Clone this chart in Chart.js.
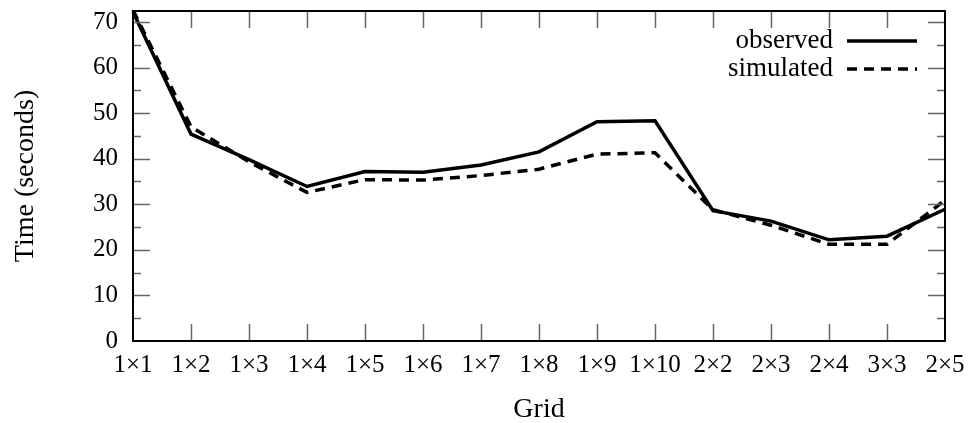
<!DOCTYPE html>
<html>
<head>
<meta charset="utf-8">
<script src="https://cdn.jsdelivr.net/npm/chart.js@4/dist/chart.umd.min.js"></script>
<style>
  html, body { margin: 0; padding: 0; background: #fff; }
  #wrap { width: 970px; height: 423px; }
</style>
</head>
<body>
<div id="wrap"><canvas id="chart" width="970" height="423"></canvas></div>
<script>
var grids = ["1×1", "1×2", "1×3", "1×4", "1×5", "1×6", "1×7", "1×8", "1×9", "1×10", "2×2", "2×3", "2×4", "3×3", "2×5"];
var observed = [72.2, 45.4, 39.8, 33.9, 37.2, 37.0, 38.6, 41.5, 48.1, 48.3, 28.6, 26.3, 22.2, 23.0, 28.9];
var simulated = [72.6, 47.0, 39.3, 32.6, 35.4, 35.3, 36.3, 37.7, 41.0, 41.3, 28.8, 25.4, 21.2, 21.2, 30.9];
var yMin = 0, yMax = 72.4, yMajor = 10, yMinor = 5;

var FONT = "'Liberation Serif', 'Times New Roman', serif";

// frame, inward ticks on all four sides, and the legend on the right
var framePlugin = {
  id: "frame",
  afterDatasetsDraw: function(chart) {
    var ctx = chart.ctx;
    var a = chart.chartArea;
    var xs = chart.scales.x, ys = chart.scales.y;
    ctx.save();
    ctx.strokeStyle = "#666";
    ctx.lineWidth = 1.5;
    ctx.beginPath();
    for (var i = 1; i < grids.length - 1; i++) {
      var px = Math.round(xs.getPixelForValue(i)) + 0.5;
      ctx.moveTo(px, a.bottom); ctx.lineTo(px, a.bottom - 17);
      ctx.moveTo(px, a.top); ctx.lineTo(px, a.top + 17);
    }
    for (var v = yMin + yMinor; v < yMax; v += yMinor) {
      var py = Math.round(ys.getPixelForValue(v)) + 0.5;
      var len = (v % yMajor === 0) ? 17 : 8;
      ctx.moveTo(a.left, py); ctx.lineTo(a.left + len, py);
      ctx.moveTo(a.right, py); ctx.lineTo(a.right - len, py);
    }
    ctx.stroke();
    ctx.strokeStyle = "#000";
    ctx.lineWidth = 2;
    ctx.strokeRect(a.left, a.top, a.right - a.left, a.bottom - a.top);

    // legend
    ctx.font = "27px " + FONT;
    ctx.fillStyle = "#000";
    ctx.textAlign = "right";
    ctx.textBaseline = "middle";
    chart.data.datasets.forEach(function(ds, k) {
      var y = 41 + k * 28;
      ctx.fillText(ds.label, 833, y);
      ctx.beginPath();
      ctx.lineWidth = 3.5;
      ctx.setLineDash(ds.borderDash || []);
      ctx.moveTo(847, y); ctx.lineTo(917, y);
      ctx.stroke();
    });
    ctx.restore();
  }
};

new Chart(document.getElementById("chart"), {
  type: "line",
  data: {
    labels: grids,
    datasets: [
      { label: "observed", data: observed, borderColor: "#000", borderWidth: 3.5, pointRadius: 0, tension: 0, fill: false },
      { label: "simulated", data: simulated, borderColor: "#000", borderWidth: 3.5, borderDash: [10, 7], pointRadius: 0, tension: 0, fill: false }
    ]
  },
  options: {
    responsive: false,
    animation: false,
    layout: { padding: { top: 11, right: 25, left: 0, bottom: 0 } },
    scales: {
      x: {
        offset: false,
        grid: { display: false, drawTicks: false },
        border: { display: false },
        ticks: { color: "#000", font: { family: FONT, size: 25 }, padding: 9, maxRotation: 0, autoSkip: false },
        title: { display: true, text: "Grid", color: "#000", font: { family: FONT, size: 28 }, padding: { top: 0, bottom: -3 } },
        afterFit: function(s) { s.height = 82; s.paddingLeft = 0; s.paddingRight = 0; }
      },
      y: {
        min: yMin, max: yMax,
        grid: { display: false, drawTicks: false },
        border: { display: false },
        ticks: {
          stepSize: yMajor, includeBounds: false, color: "#000", padding: 15,
          font: { family: FONT, size: 25 }
        },
        title: { display: true, text: "Time (seconds)", color: "#000", font: { family: FONT, size: 28 }, padding: { top: 9, bottom: 0 } },
        afterFit: function(s) { s.width = 133; s.paddingTop = 0; s.paddingBottom = 0; }
      }
    },
    plugins: {
      legend: { display: false },
      tooltip: { enabled: false }
    }
  },
  plugins: [framePlugin]
});
</script>
</body>
</html>
